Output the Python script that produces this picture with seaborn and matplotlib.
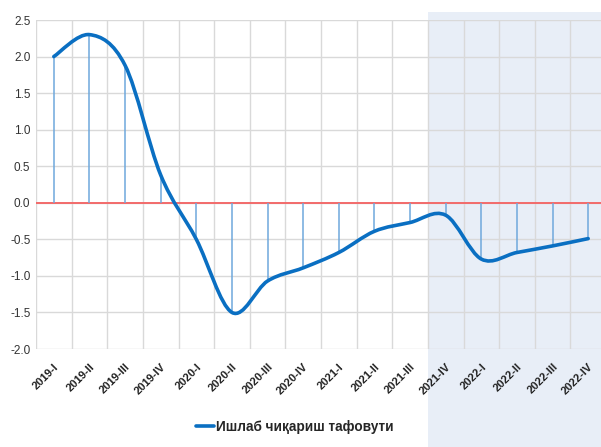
import numpy as np
import matplotlib
matplotlib.use("Agg")
import matplotlib.pyplot as plt
import matplotlib.transforms as mtransforms
import seaborn as sns
from matplotlib.path import Path
from matplotlib.patches import PathPatch, Rectangle
from matplotlib.lines import Line2D

# data
quarters = ["2019-I", "2019-II", "2019-III", "2019-IV",
            "2020-I", "2020-II", "2020-III", "2020-IV",
            "2021-I", "2021-II", "2021-III", "2021-IV",
            "2022-I", "2022-II", "2022-III", "2022-IV"]
output_gap = [2.0, 2.3, 1.88, 0.38,
              -0.5, -1.5, -1.07, -0.89,
              -0.68, -0.39, -0.27, -0.17,
              -0.77, -0.68, -0.59, -0.49]
yticks = [-2.0, -1.5, -1.0, -0.5, 0.0, 0.5, 1.0, 1.5, 2.0, 2.5]
legend_label = "Ишлаб чиқариш тафовути"

sns.set_theme(style="whitegrid")
plt.rcParams['font.family'] = ['Liberation Sans', 'DejaVu Sans']

fig = plt.figure(figsize=(6.01, 4.47), dpi=100)
# shaded forecast band (figure level, runs below the axis labels)
shade = Rectangle((428 / 601, 0), 1 - 428 / 601, 1 - 12 / 447,
                  transform=fig.transFigure, facecolor="#e8eef7",
                  edgecolor="none", zorder=-5)
fig.add_artist(shade)
ax = fig.add_axes([36 / 601, 1 - 349 / 447, 570 / 601, 329 / 447])
ax.set_facecolor("none")

x = np.arange(len(quarters))
y = np.array(output_gap)

# smooth curve through the points (cubic bezier, catmull-rom tangents)
verts = [(x[0], y[0])]
codes = [Path.MOVETO]
n = len(x)
for i in range(n - 1):
    p0 = np.array([x[max(i - 1, 0)], y[max(i - 1, 0)]])
    p1 = np.array([x[i], y[i]])
    p2 = np.array([x[i + 1], y[i + 1]])
    p3 = np.array([x[min(i + 2, n - 1)], y[min(i + 2, n - 1)]])
    c1 = p1 + (p2 - p0) / 6
    c2 = p2 - (p3 - p1) / 6
    verts += [tuple(c1), tuple(c2), tuple(p2)]
    codes += [Path.CURVE4] * 3
ax.add_patch(PathPatch(Path(verts, codes), facecolor="none",
                       edgecolor="#0a6fc2", lw=2.6, zorder=4,
                       capstyle="round", joinstyle="round"))

ax.vlines(x, 0, y, color="#6fa8dc", lw=1.1, zorder=3)
ax.axhline(0, color="#f26b6b", lw=1.4, zorder=2)

ax.set_xlim(-0.5, len(quarters) - 0.5)
ax.set_ylim(-2.0, 2.5)
ax.set_yticks(yticks)
ax.set_yticklabels([f"{v:.1f}" for v in yticks], fontsize=8.5, color="#333333")
ax.set_xticks(x)
ax.set_xticklabels(quarters, rotation=45, ha="right", rotation_mode="anchor",
                   fontsize=8, fontweight="bold", color="#222222")
shift = mtransforms.ScaledTranslation(4 / 100, 0, fig.dpi_scale_trans)
for lbl in ax.get_xticklabels():
    lbl.set_transform(lbl.get_transform() + shift)
ax.set_xticks(np.arange(-0.5, len(quarters)), minor=True)
ax.grid(False, which="major", axis="x")
ax.grid(True, which="minor", axis="x", color="#d9d9d9", lw=1)
ax.grid(True, which="major", axis="y", color="#d9d9d9", lw=1)
ax.tick_params(axis="x", which="both", length=0, pad=9)
ax.tick_params(axis="y", length=0, pad=4)
for s in ax.spines.values():
    s.set_visible(False)

handle = Line2D([], [], color="#0a6fc2", lw=2.6)
fig.legend([handle], [legend_label], loc="center", bbox_to_anchor=(295 / 601, 1 - 427 / 447),
           frameon=False, prop={"weight": "bold", "size": 9.8},
           handlelength=1.3, handletextpad=0.15)

fig.savefig("out.png", dpi=100)
